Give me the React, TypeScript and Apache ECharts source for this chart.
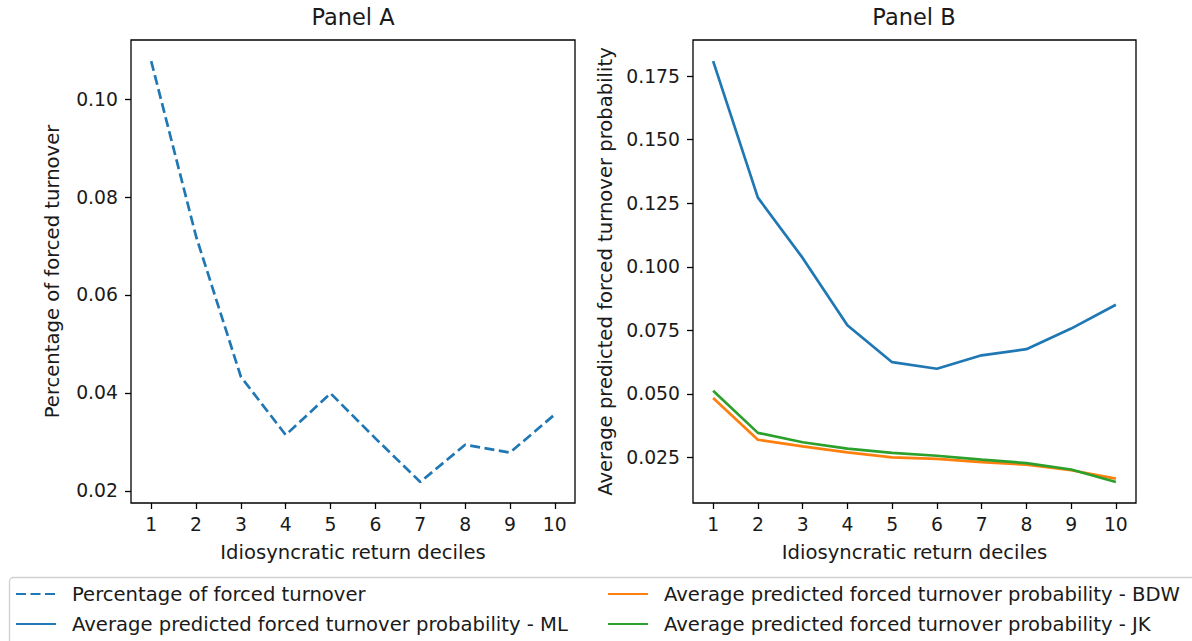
import React, { useEffect, useRef } from "react";
import * as echarts from "echarts";

const deciles = [1, 2, 3, 4, 5, 6, 7, 8, 9, 10];
const forcedTurnover = [0.1078, 0.072, 0.0433, 0.0314, 0.0399, 0.0307, 0.0218, 0.0294, 0.0278, 0.0356];
const predML = [0.1809, 0.1272, 0.1035, 0.077, 0.0625, 0.0599, 0.0652, 0.0676, 0.0757, 0.0851];
const predBDW = [0.0484, 0.032, 0.0294, 0.027, 0.0251, 0.0245, 0.0232, 0.0222, 0.02, 0.0167];
const predJK = [0.0513, 0.0347, 0.031, 0.0285, 0.0268, 0.0257, 0.0242, 0.0228, 0.0203, 0.0154];
const xTicks = [1, 2, 3, 4, 5, 6, 7, 8, 9, 10];
const yTicksA = [0.02, 0.04, 0.06, 0.08, 0.1];
const yTicksB = [0.025, 0.05, 0.075, 0.1, 0.125, 0.15, 0.175];

const seriesNames = [
  "Percentage of forced turnover",
  "Average predicted forced turnover probability - ML",
  "Average predicted forced turnover probability - BDW",
  "Average predicted forced turnover probability - JK",
];

const FONT = "DejaVu Sans";
const TXT = "#1a1a1a";
const TICK_FS = 18.8;
const LABEL_FS = 19.6;

function padRange(vals: number[]) {
  const lo = Math.min(...vals);
  const hi = Math.max(...vals);
  const m = (hi - lo) * 0.05;
  return [lo - m, hi + m];
}

function pairs(ys: number[]) {
  return deciles.map((x, i) => [x, ys[i]]);
}

export default function App() {
  const ref = useRef<HTMLDivElement>(null);
  useEffect(() => {
    if (!ref.current) return;
    const chart = echarts.init(ref.current, undefined, { renderer: "svg" });
    const xr = padRange(deciles);
    const yrA = padRange(forcedTurnover);
    const yrB = padRange([...predML, ...predBDW, ...predJK]);

    const xAxisCommon = (gridIndex: number) => ({
      type: "value",
      gridIndex,
      min: xr[0],
      max: xr[1],
      axisLine: { show: false },
      splitLine: { show: false },
      axisTick: { show: true, length: 6, inside: false, customValues: xTicks, lineStyle: { color: "#000", width: 1.3 } },
      axisLabel: {
        customValues: xTicks,
        margin: 12,
        fontSize: TICK_FS,
        fontFamily: FONT,
        color: TXT,
        formatter: (v: number) => String(v),
      },
      name: "Idiosyncratic return deciles",
      nameLocation: "middle",
      nameGap: 39,
      nameTextStyle: { fontSize: LABEL_FS, fontFamily: FONT, color: TXT },
    });

    const legendCommon = {
      orient: "vertical",
      top: 584,
      padding: 0,
      itemWidth: 40,
      itemHeight: 14,
      itemGap: 10,
      itemStyle: { opacity: 0 },
      textStyle: { fontSize: LABEL_FS, fontFamily: FONT, color: TXT, padding: [0, 0, 0, 11] },
    };

    const option: any = {
      animation: false,
      backgroundColor: "#fff",
      title: [
        { text: "Panel A", left: 353, top: 5, textAlign: "center", padding: 0, textStyle: { fontSize: 22.5, fontWeight: "normal", fontFamily: FONT, color: TXT } },
        { text: "Panel B", left: 914, top: 5, textAlign: "center", padding: 0, textStyle: { fontSize: 22.5, fontWeight: "normal", fontFamily: FONT, color: TXT } },
      ],
      grid: [
        { left: 131, top: 40, width: 444, height: 463, show: true, borderColor: "#000", borderWidth: 1.3, backgroundColor: "#fff" },
        { left: 693, top: 40, width: 443, height: 463, show: true, borderColor: "#000", borderWidth: 1.3, backgroundColor: "#fff" },
      ],
      xAxis: [xAxisCommon(0), xAxisCommon(1)],
      yAxis: [
        {
          type: "value",
          gridIndex: 0,
          min: yrA[0],
          max: yrA[1],
          axisLine: { show: false },
          splitLine: { show: false },
          axisTick: { show: true, length: 6, customValues: yTicksA, lineStyle: { color: "#000", width: 1.3 } },
          axisLabel: { customValues: yTicksA, margin: 13, fontSize: TICK_FS, fontFamily: FONT, color: TXT, formatter: (v: number) => v.toFixed(2) },
          name: "Percentage of forced turnover",
          nameLocation: "middle",
          nameGap: 69,
          nameTextStyle: { fontSize: LABEL_FS, fontFamily: FONT, color: TXT },
        },
        {
          type: "value",
          gridIndex: 1,
          min: yrB[0],
          max: yrB[1],
          axisLine: { show: false },
          splitLine: { show: false },
          axisTick: { show: true, length: 6, customValues: yTicksB, lineStyle: { color: "#000", width: 1.3 } },
          axisLabel: { customValues: yTicksB, margin: 13, fontSize: TICK_FS, fontFamily: FONT, color: TXT, formatter: (v: number) => v.toFixed(3) },
          name: "Average predicted forced turnover probability",
          nameLocation: "middle",
          nameGap: 78,
          nameTextStyle: { fontSize: LABEL_FS, fontFamily: FONT, color: TXT },
        },
      ],
      legend: [
        { ...legendCommon, left: 15, data: [seriesNames[0], seriesNames[1]] },
        { ...legendCommon, left: 607, data: [seriesNames[2], seriesNames[3]] },
      ],
      graphic: [
        {
          type: "rect",
          shape: { x: 9.5, y: 577.5, width: 1200, height: 100, r: 4 },
          style: { fill: "none", stroke: "#d0d0d0", lineWidth: 1.3 },
          z: -1,
        },
      ],
      series: [
        {
          name: seriesNames[0],
          type: "line",
          xAxisIndex: 0,
          yAxisIndex: 0,
          data: pairs(forcedTurnover),
          showSymbol: false,
          lineStyle: { color: "#1f77b4", width: 2.7, type: [10, 4.5] },
          itemStyle: { color: "#1f77b4" },
        },
        {
          name: seriesNames[1],
          type: "line",
          xAxisIndex: 1,
          yAxisIndex: 1,
          data: pairs(predML),
          showSymbol: false,
          lineStyle: { color: "#1f77b4", width: 2.7 },
          itemStyle: { color: "#1f77b4" },
        },
        {
          name: seriesNames[2],
          type: "line",
          xAxisIndex: 1,
          yAxisIndex: 1,
          data: pairs(predBDW),
          showSymbol: false,
          lineStyle: { color: "#ff7f0e", width: 2.7 },
          itemStyle: { color: "#ff7f0e" },
        },
        {
          name: seriesNames[3],
          type: "line",
          xAxisIndex: 1,
          yAxisIndex: 1,
          data: pairs(predJK),
          showSymbol: false,
          lineStyle: { color: "#2ca02c", width: 2.7 },
          itemStyle: { color: "#2ca02c" },
        },
      ],
    };
    chart.setOption(option);
    return () => chart.dispose();
  }, []);
  return <div ref={ref} style={{ position: "absolute", left: 0, top: 0, width: 1192, height: 641 }} />;
}
